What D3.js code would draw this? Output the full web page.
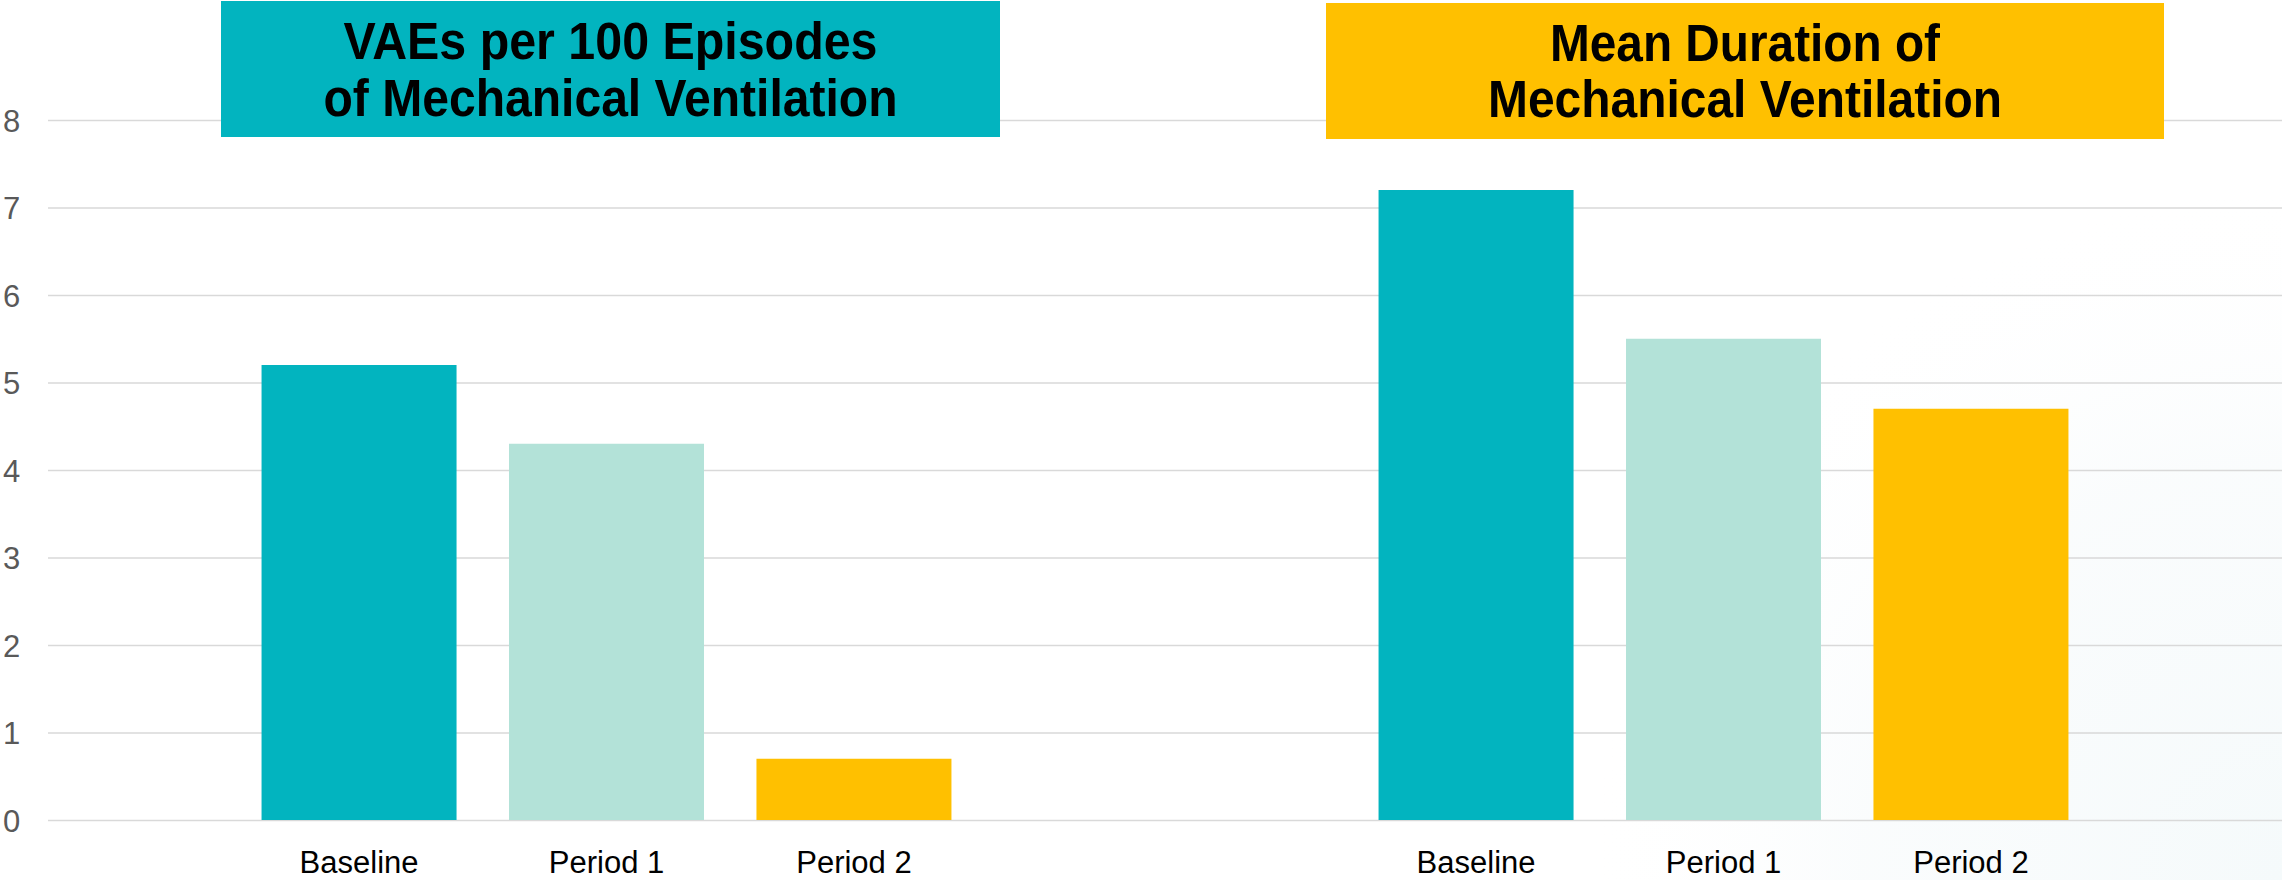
<!DOCTYPE html>
<html>
<head>
<meta charset="utf-8">
<script src="https://cdn.jsdelivr.net/npm/d3@7/dist/d3.min.js"></script>
<style>
  html, body { margin: 0; padding: 0; background: #ffffff; }
  svg { display: block; }
</style>
</head>
<body>
<svg id="chart" width="2282" height="880"></svg>
<script>
// Chart data
const categories = ["Baseline", "Period 1", "Period 2"];
const panels = ["vae", "duration"];
const vaePer100 = [5.2, 4.3, 0.7];        // VAEs per 100 episodes of mechanical ventilation
const meanDuration = [7.2, 5.5, 4.7];     // mean duration of mechanical ventilation
const yTicks = [0, 1, 2, 3, 4, 5, 6, 7, 8];
const panelTitles = [
  ["VAEs per 100 Episodes", "of Mechanical Ventilation"],
  ["Mean Duration of", "Mechanical Ventilation"]
];

const seriesByPanel = { vae: vaePer100, duration: meanDuration };
const barColors = ["#02B4BF", "#B3E2D8", "#FFC000"];
const titleColors = ["#02B4BF", "#FFC000"];

// Layout
const W = 2282, H = 880;
const plot = { left: 48, right: 2282, top: 120, bottom: 820 };
const titleBoxes = [
  { x0: 221, x1: 1000, y0: 1, y1: 137, base: [59, 116], widths: [534, 574] },
  { x0: 1326, x1: 2164, y0: 3, y1: 139, base: [61, 117], widths: [390, 514] }
];

const svg = d3.select("#chart");

// faint tint in the lower right of the canvas
const defs = svg.append("defs");
const tint = defs.append("radialGradient")
  .attr("id", "cornerTint")
  .attr("gradientUnits", "userSpaceOnUse")
  .attr("cx", 2282).attr("cy", 880).attr("r", 700);
tint.append("stop").attr("offset", "0").attr("stop-color", "#f5fafb").attr("stop-opacity", 1);
tint.append("stop").attr("offset", "0.6").attr("stop-color", "#f8fbfc").attr("stop-opacity", 0.7);
tint.append("stop").attr("offset", "1").attr("stop-color", "#ffffff").attr("stop-opacity", 0);
svg.append("rect").attr("x", 0).attr("y", 0).attr("width", W).attr("height", H)
  .attr("fill", "url(#cornerTint)");

// Scales
const y = d3.scaleLinear().domain([0, 8]).range([plot.bottom, plot.top]);
const xPanel = d3.scaleBand().domain(panels).range([plot.left, plot.right]).padding(0);
const xCat = d3.scaleBand().domain(categories)
  .range([0, xPanel.bandwidth()])
  .paddingInner(0.212)
  .paddingOuter(0.863);

// Horizontal gridlines and value labels
const yAxis = d3.axisLeft(y)
  .tickValues(yTicks)
  .tickSize(-(plot.right - plot.left))
  .tickPadding(0)
  .tickFormat(d3.format("d"));

const gy = svg.append("g")
  .attr("transform", `translate(${plot.left},0)`)
  .call(yAxis);
gy.select(".domain").remove();
gy.selectAll(".tick line")
  .attr("stroke", "#D9D9D9")
  .attr("stroke-width", 1.6);
gy.selectAll(".tick text")
  .attr("x", -plot.left + 3)
  .attr("text-anchor", "start")
  .attr("dy", "0.36em")
  .attr("fill", "#595959")
  .style("font-family", "Liberation Sans, Arial, sans-serif")
  .style("font-size", "31px");

// Bars per panel
panels.forEach((p, pi) => {
  const g = svg.append("g").attr("transform", `translate(${xPanel(p)},0)`);
  const vals = seriesByPanel[p];
  g.selectAll("rect.bar")
    .data(categories.map((c, i) => ({ c, v: vals[i], i })))
    .join("rect")
    .attr("class", "bar")
    .attr("x", d => xCat(d.c))
    .attr("width", xCat.bandwidth())
    .attr("y", d => y(d.v))
    .attr("height", d => y(0) - y(d.v))
    .attr("fill", d => barColors[d.i]);

  const xAxis = d3.axisBottom(xCat).tickSize(0).tickPadding(0);
  const gx = g.append("g").attr("transform", `translate(0,${plot.bottom})`).call(xAxis);
  gx.select(".domain").remove();
  gx.selectAll(".tick text")
    .attr("y", 53)
    .attr("dy", 0)
    .attr("fill", "#000000")
    .style("font-family", "Liberation Sans, Arial, sans-serif")
    .style("font-size", "31px");
});

// Panel title boxes
panels.forEach((p, pi) => {
  const b = titleBoxes[pi];
  svg.append("rect")
    .attr("x", b.x0).attr("y", b.y0)
    .attr("width", b.x1 - b.x0).attr("height", b.y1 - b.y0)
    .attr("fill", titleColors[pi]);
  const cx = (b.x0 + b.x1) / 2;
  panelTitles[pi].forEach((line, li) => {
    svg.append("text")
      .attr("x", cx)
      .attr("y", b.base[li])
      .attr("text-anchor", "middle")
      .attr("textLength", b.widths[li])
      .attr("lengthAdjust", "spacingAndGlyphs")
      .attr("fill", "#000000")
      .style("font-family", "Liberation Sans Narrow, Arial Narrow, Liberation Sans, Arial, sans-serif")
      .style("font-weight", "bold")
      .style("font-size", "51px")
      .text(line);
  });
});
</script>
</body>
</html>
